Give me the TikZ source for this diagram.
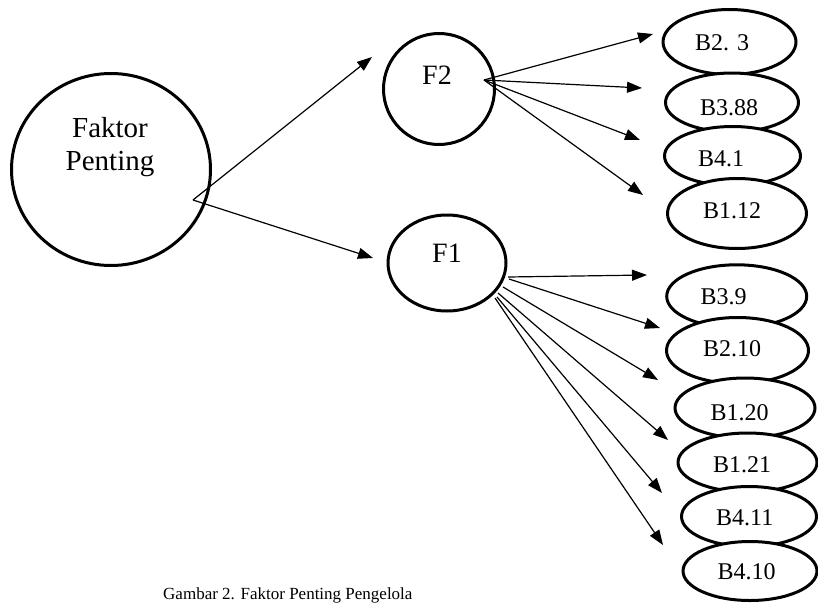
\documentclass[tikz,border=0pt]{standalone}
\usepackage{fontspec}
\setmainfont{Liberation Serif}
\usetikzlibrary{arrows.meta,shapes.geometric}
\begin{document}
\begin{tikzpicture}[x=1pt,y=-1pt,
  bigc/.style={ellipse, draw, line width=3pt, minimum width=199pt, minimum height=192pt, inner sep=0pt},
  fcirc/.style={draw, line width=3pt, inner sep=0pt},
  bel/.style={ellipse, draw, fill=white, line width=3pt, inner sep=0pt},
  blbl/.style={font=\fontsize{24}{28}\selectfont, inner sep=0pt},
  flbl/.style={font=\fontsize{28}{32}\selectfont, inner sep=0pt},
  arr/.style={-{Triangle[length=15pt,width=11pt]}, line width=1.2pt}]
\useasboundingbox (0,0) rectangle (818,602);

% main circle
\node[bigc, label={[align=center, font=\fontsize{29}{33}\selectfont, inner sep=0pt, xshift=-1pt, yshift=22.7pt]center:Faktor\\Penting}] (fp) at (111,169.5) {};

% factor circles
\node[fcirc, circle, minimum size=111pt, label={[flbl, xshift=-2pt, yshift=14pt]center:F2}] (f2) at (439,89) {};
\node[fcirc, ellipse, minimum width=118pt, minimum height=96pt, label={[flbl, yshift=10pt]center:F1}] (f1) at (447,263) {};

% item ellipses (top group)
\node[bel, minimum width=133pt, minimum height=65pt, label={[blbl, xshift=-7.5pt, yshift=-1pt]center:B2. 3}] (b23) at (729.5,42) {};
\node[bel, minimum width=133pt, minimum height=59pt, label={[blbl, xshift=-3pt, yshift=-5.5pt]center:B3.88}] (b388) at (732,102.5) {};
\node[bel, minimum width=136pt, minimum height=59pt, label={[blbl, xshift=-11.5pt, yshift=-3pt]center:B4.1}] (b41) at (732.5,156) {};
\node[bel, minimum width=139pt, minimum height=70pt, label={[blbl, xshift=-5pt, yshift=2.5pt]center:B1.12}] (b112) at (737,213.5) {};

% item ellipses (bottom group)
\node[bel, minimum width=140pt, minimum height=63pt, label={[blbl, xshift=-13pt, yshift=0pt]center:B3.9}] (b39) at (736.7,296.3) {};
\node[bel, minimum width=142pt, minimum height=66pt, label={[blbl, xshift=-5.5pt, yshift=2pt]center:B2.10}] (b210) at (737.5,350.5) {};
\node[bel, minimum width=140pt, minimum height=60pt, label={[blbl, xshift=-5.3pt, yshift=-4.5pt]center:B1.20}] (b120) at (745,408) {};
\node[bel, minimum width=139pt, minimum height=59pt, label={[blbl, xshift=-5.5pt, yshift=-2.5pt]center:B1.21}] (b121) at (747.5,462.5) {};
\node[bel, minimum width=135pt, minimum height=60pt, label={[blbl, xshift=-4.3pt, yshift=-1.5pt]center:B4.11}] (b411) at (749,516.5) {};
\node[bel, minimum width=134pt, minimum height=59pt, label={[blbl, xshift=-3.5pt, yshift=-1pt]center:B4.10}] (b410) at (750,571) {};

% arrow end points
\coordinate (s0) at (193,200);
\coordinate (tf2) at (372,57);
\coordinate (tf1) at (373,258);

\coordinate (s2) at (484,80);
\coordinate (a1) at (653,34);
\coordinate (a2) at (642,88);
\coordinate (a3) at (640,140);
\coordinate (a4) at (643,195);

\coordinate (s11) at (508,277);
\coordinate (s12) at (509,279);
\coordinate (s13) at (503,287);
\coordinate (s14) at (498,293);
\coordinate (s15) at (497,297);
\coordinate (s16) at (495,298);
\coordinate (c1) at (647,275);
\coordinate (c2) at (660,328);
\coordinate (c3) at (658,380);
\coordinate (c4) at (668,440);
\coordinate (c5) at (662,493);
\coordinate (c6) at (663,545);

\draw[arr] (s0) -- (tf2);
\draw[arr] (s0) -- (tf1);

\foreach \t in {a1,a2,a3,a4} \draw[arr] (s2) -- (\t);
\draw[arr] (s11) -- (c1);
\draw[arr] (s12) -- (c2);
\draw[arr] (s13) -- (c3);
\draw[arr] (s14) -- (c4);
\draw[arr] (s15) -- (c5);
\draw[arr] (s16) -- (c6);

% caption
\node[anchor=base west, inner sep=0pt, font=\fontsize{17}{20}\selectfont] (cap) at (163,599) {Gambar 2. Faktor Penting Pengelola};
\end{tikzpicture}
\end{document}
